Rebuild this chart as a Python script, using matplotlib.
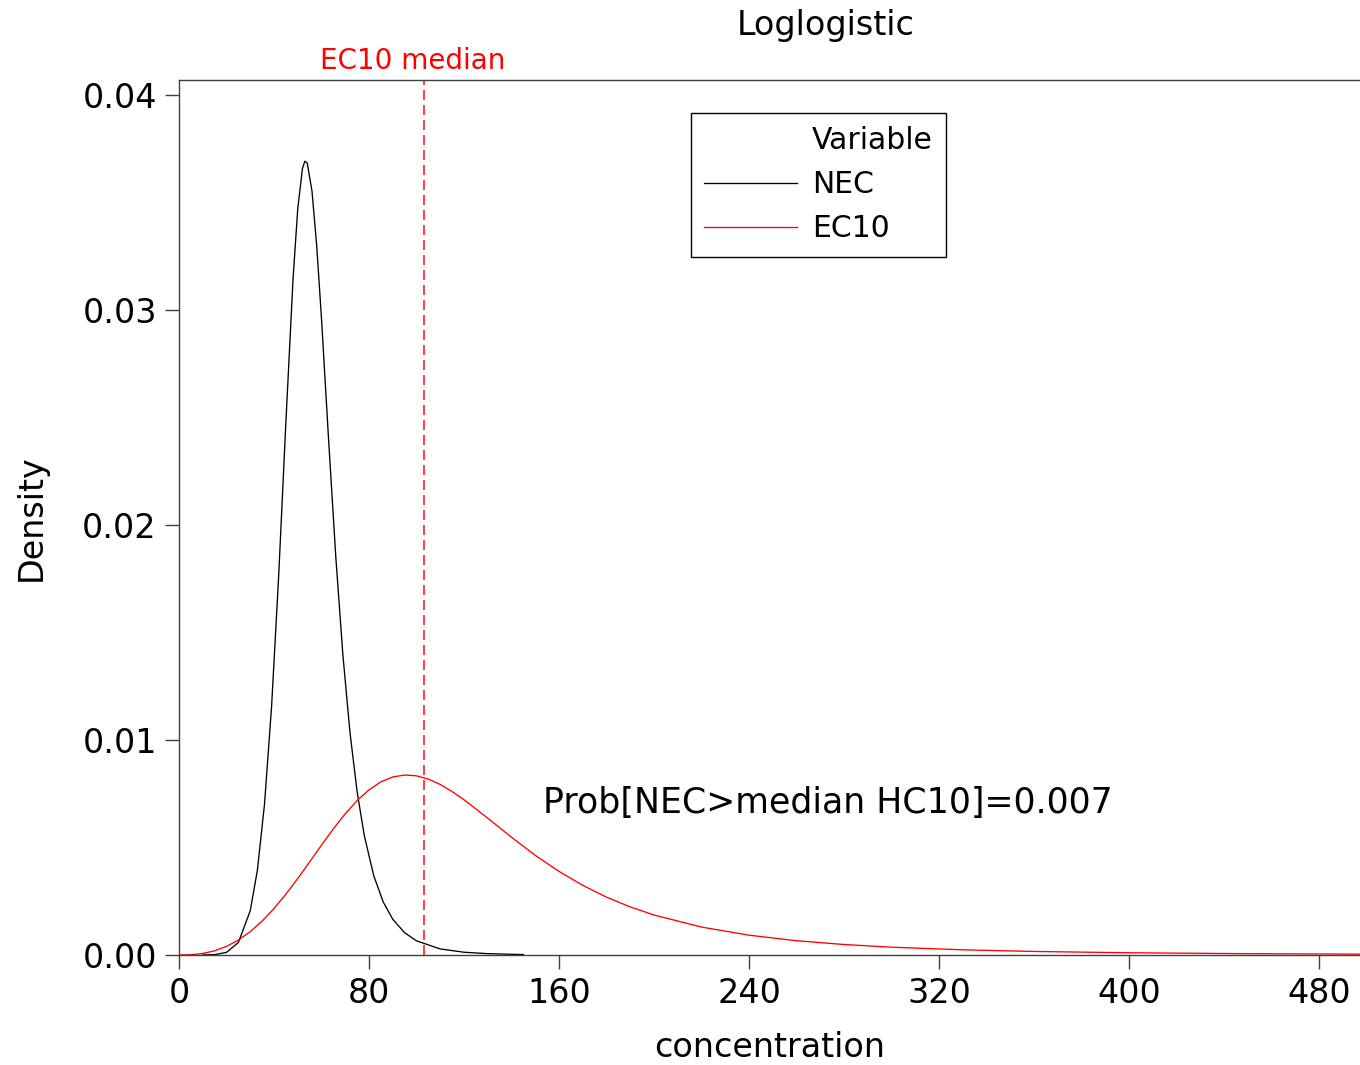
import matplotlib
matplotlib.use('Agg')
import matplotlib.pyplot as plt
from matplotlib.lines import Line2D

# NEC density
nec_x = [10, 15, 20, 25, 30, 33, 36, 39, 42, 45, 48, 50, 52, 53, 54, 56, 58, 60,
         63, 66, 69, 72, 75, 78, 82, 86, 90, 95, 100, 110, 120, 130, 140, 145]
nec_y = [0.000001, 0.000016, 0.000122, 0.000581, 0.002058, 0.003939, 0.007007,
         0.011584, 0.017697, 0.02476, 0.031401, 0.034706, 0.036589, 0.03692,
         0.036838, 0.035529, 0.032972, 0.029601, 0.023955, 0.018556, 0.01397,
         0.010344, 0.007597, 0.005567, 0.003688, 0.002464, 0.001664, 0.001036,
         0.000659, 0.000282, 0.000129, 0.000063, 0.000032, 0.000022]

# EC10 density
ec10_x = [0, 5, 10, 15, 20, 25, 30, 35, 40, 45, 50, 55, 60, 65, 70, 75, 80, 85,
          90, 95, 100, 105, 110, 115, 120, 130, 140, 150, 160, 170, 180, 190,
          200, 220, 240, 260, 280, 300, 330, 360, 400, 450, 500]
ec10_y = [0.0, 0.000013, 0.000071, 0.000195, 0.0004, 0.000695, 0.001087,
          0.001577, 0.00216, 0.002827, 0.003557, 0.004329, 0.00511, 0.005868,
          0.006568, 0.007182, 0.007682, 0.008051, 0.008281, 0.008372, 0.008334,
          0.008181, 0.007931, 0.007605, 0.007223, 0.006365, 0.005478, 0.004638,
          0.003888, 0.00324, 0.002692, 0.002237, 0.001861, 0.0013, 0.000922,
          0.000665, 0.000488, 0.000364, 0.000241, 0.000165, 0.000104,
          0.000062, 0.000039]

ec10_median = 103.2
prob_text = 'Prob[NEC>median HC10]=0.007'

xticks = [0, 80, 160, 240, 320, 400, 480]
yticks = [0.00, 0.01, 0.02, 0.03, 0.04]
ytick_labels = ['0.00', '0.01', '0.02', '0.03', '0.04']

plt.rcParams['font.family'] = ['DejaVu Sans']
spine_col = '#404040'

fig = plt.figure(figsize=(13.6, 10.65), dpi=100)
ax = fig.add_axes([179 / 1360, 1 - 955 / 1065, 1 - 179 / 1360, 875 / 1065])

ax.plot(nec_x, nec_y, color='black', lw=0.95, label='NEC')
ax.plot(ec10_x, ec10_y, color='red', lw=0.95, label='EC10')
ax.axvline(ec10_median, color='#ff2020', lw=1.2, ls=(0, (6, 3)))

ax.set_xlim(0, 497.3)
ax.set_ylim(0, 0.040698)
ax.set_xticks(xticks)
ax.set_yticks(yticks)
ax.set_yticklabels(ytick_labels)
ax.tick_params(axis='both', direction='out', length=10, width=1.0,
               color=spine_col, labelsize=24, pad=6)

for s in ['left', 'top', 'bottom']:
    ax.spines[s].set_color(spine_col)
    ax.spines[s].set_linewidth(1.0)
ax.spines['right'].set_visible(False)

ax.set_xlabel('concentration', fontsize=24)
ax.set_ylabel('Density', fontsize=24)
ax.xaxis.set_label_coords(0.5, -0.087)
ax.yaxis.set_label_coords(-0.111, 0.5)

ax.text(153.3, 0.00707, prob_text, fontsize=25, va='center', ha='left')
ax.text(98.5, 1.022, 'EC10 median', color='red', fontsize=20, ha='center',
        va='center', transform=ax.get_xaxis_transform(), clip_on=False)
fig.text(826 / 1360, 1 - 25 / 1065, 'Loglogistic', fontsize=24,
         ha='center', va='center')

handles = [Line2D([], [], color='none'),
           Line2D([], [], color='black', lw=0.95),
           Line2D([], [], color='red', lw=0.95)]
leg = ax.legend(handles, ['Variable', 'NEC', 'EC10'], loc='upper left',
                bbox_to_anchor=(0.4335, 0.9623), borderaxespad=0,
                fontsize=21.5, handlelength=3.1, handletextpad=0.5,
                labelspacing=0.5, borderpad=0.45, fancybox=False,
                framealpha=1, edgecolor='black')
leg.get_frame().set_linewidth(1.0)

fig.savefig('out.png', dpi=100)
